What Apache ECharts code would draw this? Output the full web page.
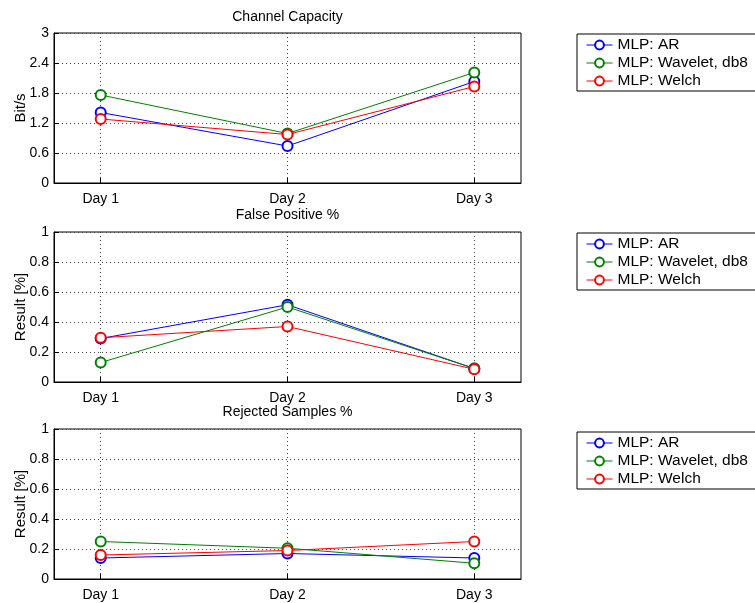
<!DOCTYPE html>
<html>
<head>
<meta charset="utf-8">
<script src="https://cdn.jsdelivr.net/npm/echarts@6/dist/echarts.min.js"></script>
<style>
  html, body { margin: 0; padding: 0; background: #fff; }
  #chart { width: 755px; height: 603px; }
</style>
</head>
<body>
<div id="chart"></div>
<script>
// Categories (x positions 1..3)
const categories = ['Day 1', 'Day 2', 'Day 3'];
const seriesNames = ['MLP: AR', 'MLP: Wavelet, db8', 'MLP: Welch'];
const seriesColors = ['#0000ff', '#008000', '#ff0000'];

// Channel capacity [Bit/s]
const capacityAR = [1.41, 0.74, 2.03];
const capacityWavelet = [1.76, 0.99, 2.21];
const capacityWelch = [1.28, 0.97, 1.93];

// False positive rate
const falsePosAR = [0.29, 0.515, 0.09];
const falsePosWavelet = [0.13, 0.50, 0.09];
const falsePosWelch = [0.295, 0.37, 0.085];

// Rejected samples rate
const rejectedAR = [0.14, 0.17, 0.14];
const rejectedWavelet = [0.25, 0.205, 0.105];
const rejectedWelch = [0.16, 0.19, 0.25];

// Y-axis ticks per panel
const capacityTicks = [0, 0.6, 1.2, 1.8, 2.4, 3];
const rateTicks = [0, 0.2, 0.4, 0.6, 0.8, 1];

const panels = [
  { title: 'Channel Capacity', yName: 'Bit/s', ticks: capacityTicks, data: [capacityAR, capacityWavelet, capacityWelch] },
  { title: 'False Positive %', yName: 'Result [%]', ticks: rateTicks, data: [falsePosAR, falsePosWavelet, falsePosWelch] },
  { title: 'Rejected Samples %', yName: 'Result [%]', ticks: rateTicks, data: [rejectedAR, rejectedWavelet, rejectedWelch] }
];

const FONT = 'Liberation Sans, Arial, sans-serif';
const gridTops = [33, 232, 429];
const titleTops = [10, 208, 405];
const legendTops = [34, 233, 432];
const plotLeft = 54, plotWidth = 467, plotHeight = 150;

const gridLine = { show: true, lineStyle: { color: '#444', width: 1, type: [1, 3] } };

const option = {
  animation: false,
  backgroundColor: '#fff',
  title: panels.map((p, i) => ({
    text: p.title,
    left: plotLeft + plotWidth / 2,
    textAlign: 'center',
    top: titleTops[i],
    padding: 0,
    textStyle: { fontFamily: FONT, fontSize: 14, fontWeight: 'normal', color: '#000' }
  })),
  legend: panels.map((p, i) => ({
    data: seriesNames,
    orient: 'vertical',
    left: 577,
    top: legendTops[i],
    padding: [3, 40, 2, 9],
    itemWidth: 26,
    itemHeight: 11,
    itemGap: 2,
    itemTextGap: 14,
    borderColor: '#000',
    borderWidth: 1,
    backgroundColor: '#fff',
    borderRadius: 0,
    selectedMode: false,
    itemStyle: { borderWidth: 1 },
    lineStyle: { width: 1 },
    textStyle: { fontFamily: FONT, fontSize: 15.5, color: '#000' }
  })),
  grid: panels.map((p, i) => ({
    left: plotLeft,
    top: gridTops[i],
    width: plotWidth,
    height: plotHeight,
    outerBoundsMode: 'none',
    containLabel: false,
    show: true,
    borderColor: '#000',
    borderWidth: 1,
    backgroundColor: '#fff'
  })),
  xAxis: panels.map((p, i) => ({
    type: 'value',
    gridIndex: i,
    min: 0.75,
    max: 3.25,
    axisLine: { show: true, onZero: false, lineStyle: { color: '#000', width: 1 } },
    axisTick: { show: true, inside: true, length: 5, customValues: [1, 2, 3], lineStyle: { color: '#000' } },
    axisLabel: {
      customValues: [1, 2, 3],
      formatter: v => categories[Math.round(v) - 1],
      margin: 9,
      fontFamily: FONT, fontSize: 14, color: '#000'
    },
    splitLine: gridLine
  })),
  yAxis: panels.map((p, i) => ({
    type: 'value',
    gridIndex: i,
    min: p.ticks[0],
    max: p.ticks[p.ticks.length - 1],
    interval: p.ticks[1] - p.ticks[0],
    name: p.yName,
    nameLocation: 'middle',
    nameGap: 26,
    nameMoveOverlap: false,
    nameTextStyle: { fontFamily: FONT, fontSize: 15, color: '#000' },
    axisLine: { show: true, lineStyle: { color: '#000', width: 1 } },
    axisTick: { show: true, inside: true, length: 5, lineStyle: { color: '#000' } },
    axisLabel: {
      margin: 5,
      fontFamily: FONT, fontSize: 14, color: '#000',
      formatter: v => String(Math.round(v * 10) / 10)
    },
    splitLine: gridLine
  })),
  series: []
};

panels.forEach((p, i) => {
  p.data.forEach((values, k) => {
    option.series.push({
      type: 'line',
      name: seriesNames[k],
      xAxisIndex: i,
      yAxisIndex: i,
      data: values.map((v, j) => [j + 1, v]),
      color: seriesColors[k],
      symbol: 'emptyCircle',
      symbolSize: 10,
      showAllSymbol: true,
      lineStyle: { width: 1, color: seriesColors[k] },
      itemStyle: { color: seriesColors[k], borderWidth: 1 },
      emphasis: { disabled: true }
    });
  });
});

const chart = echarts.init(document.getElementById('chart'), null, { renderer: 'canvas' });
chart.setOption(option);
</script>
</body>
</html>
